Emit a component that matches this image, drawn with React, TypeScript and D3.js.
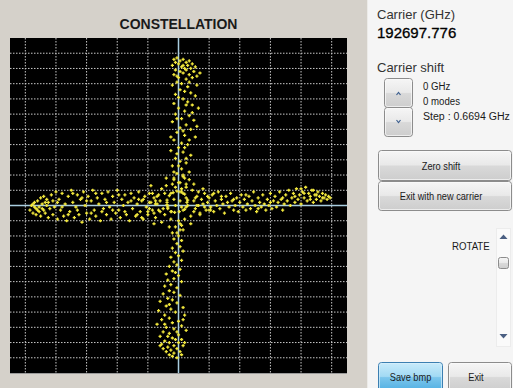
import React from "react";
import * as d3 from "d3";

// Constellation samples in hundredths of full scale: [I, Q]
const leftArm: number[][] = [
  [-97,-3],[-96,0],[-95,-5],[-94,2],[-93,-2],[-93,-6],[-92,3],[-91,-1],[-91,-4],[-90,5],[-90,-7],[-89,1],
  [-88,-3],[-88,6],[-87,-5],[-86,0],[-86,4],[-85,-8],[-85,2],[-84,-2],[-83,7],[-82,-6],[-82,3],[-81,-1],
  [-80,9],[-79,-9],[-78,4],[-77,-3],[-76,8],[-75,-7],[-74,1],[-73,-10],[-72,6],[-71,-4],[-70,10],[-69,2],
  [-68,-8],[-67,-1],[-66,7],[-65,-6],[-64,4],[-63,-11],[-62,9],[-61,0],[-60,-5],[-59,6],[-58,-9],[-57,3],
  [-56,10],[-55,-3],[-54,-7],[-53,5],[-52,1],[-51,-10],[-50,8],[-49,-2],[-48,4],[-47,-6],[-46,9],[-45,-1],
  [-44,-9],[-43,6],[-42,2],[-41,-5],[-40,10],[-39,-3],[-38,-8],[-37,4],[-36,0],[-35,7],[-34,-6],[-33,2],
  [-32,-10],[-31,8],[-30,-2],[-29,5],[-28,-7],[-27,1],[-26,9],[-25,-4],[-24,3],[-23,-9],[-22,6],[-21,-1],
  [-20,-6],[-19,8],[-18,2],[-17,-3],[-16,5],[-15,-8],[-14,1],[-13,7],[-12,-4],
  [-79,2],[-76,-1],[-72,-6],[-69,8],[-66,-3],[-63,5],[-60,3],[-57,-5],[-54,8],[-50,-4],[-47,2],[-43,-3],
  [-39,7],[-35,-4],[-31,3],[-27,-6],[-23,4],[-19,-2],[-15,3],[-94,-1],[-92,-3],[-89,-2],[-87,2],[-95,1],
];

const rightArm: number[][] = [
  [10,3],[11,-2],[12,6],[13,0],[14,-5],[15,4],[16,1],[17,8],[18,-3],[19,2],[20,5],[21,-1],[22,7],[23,-4],
  [24,3],[25,0],[26,9],[27,-2],[28,4],[29,1],[30,-5],[31,6],[32,2],[33,-1],[34,8],[35,3],[36,-3],[37,0],
  [38,5],[39,-4],[40,2],[41,7],[42,-1],[43,4],[44,-3],[45,1],[46,6],[47,-2],[48,3],[49,9],[50,0],[51,-4],
  [52,5],[53,2],[54,-1],[55,7],[56,1],[57,-3],[58,4],[59,0],[60,8],[61,-2],[62,3],[63,6],[64,-1],[65,2],
  [66,9],[67,4],[68,-3],[69,1],[70,7],[71,3],[72,10],[73,0],[74,5],[75,8],[76,2],[77,11],[78,4],[79,7],
  [80,1],[81,9],[82,5],[83,12],[84,3],[85,8],[86,6],[87,10],[88,2],[89,7],[90,4],[91,9],[92,6],[93,3],
  [94,8],[95,5],[96,7],[97,4],[98,6],[99,5],
  [20,-3],[28,6],[36,4],[44,7],[52,-2],[60,2],[68,5],[76,6],[82,8],[86,4],[90,7],[94,5],[80,11],[88,10],
];

const topArm: number[][] = [
  [-3,96],[-1,97],[1,95],[3,96],[0,93],[-4,92],[2,91],[5,94],[4,90],[-2,89],[6,92],[1,88],[8,90],[-3,86],
  [3,87],[7,86],[0,84],[10,88],[5,83],[-1,81],[9,84],[2,80],[12,85],[-4,79],[6,78],[4,75],
  [1,76],[8,74],[-2,73],[11,72],[3,70],[6,68],[-3,67],[9,66],[0,64],[13,64],[4,62],[-2,60],[7,59],[2,57],
  [10,56],[-4,55],[5,53],[1,51],[8,50],[-1,48],[4,46],[11,45],[-3,43],[2,41],[6,40],[0,38],[-5,36],[3,35],
  [8,33],[-2,31],[1,29],[5,28],[-4,26],[2,24],[7,22],[-1,21],[3,19],[-3,17],[1,15],[5,14],[-2,12],[2,11],
  [7,95],[9,93],[-2,94],[3,92],[11,91],[5,89],[14,87],[-1,85],[7,81],[12,79],[0,71],[5,66],[9,61],[-1,57],
  [12,52],[3,49],[-5,45],[7,43],[4,38],[-1,34],[5,31],[0,26],[-3,22],[4,18],
];

const bottomArm: number[][] = [
  [1,-12],[-2,-14],[3,-16],[-1,-18],[0,-20],[-3,-22],[2,-23],[-1,-25],[1,-27],[-4,-28],[3,-30],[-2,-31],
  [0,-33],[-5,-34],[2,-36],[-3,-37],[-1,-39],[-6,-40],[1,-42],[-4,-43],[-8,-45],[0,-46],[-3,-48],[-7,-49],
  [2,-50],[-5,-52],[-9,-53],[-1,-54],[-6,-56],[-3,-57],[-10,-58],[1,-59],[-7,-61],[-4,-62],[-12,-63],
  [-1,-64],[-8,-66],[3,-67],[-5,-68],[-13,-69],[-2,-70],[-9,-72],[4,-72],[-6,-74],[-11,-75],[0,-76],
  [-4,-77],[-14,-78],[2,-79],[-8,-80],[-3,-81],[5,-82],[-10,-83],[-6,-84],[0,-85],[-12,-86],
  [-4,-87],[2,-88],[-9,-89],[-6,-90],[0,-90],[-11,-91],[-3,-92],[3,-92],[-7,-93],[-1,-94],[-10,-94],
  [-5,-95],[1,-96],[-8,-96],[-3,-97],[2,-98],[-6,-98],[-1,-100],[-4,-99],
  [-2,-44],[-6,-65],[3,-75],[-9,-78],[-1,-83],[4,-90],[-12,-92],[-2,-88],[-7,-86],
];

const centerCluster: number[][] = [
  [5.5,2],[5,5],[4,7.5],[2,9],[-1,9.5],[-3.5,8.5],[-6,6.5],[-7.5,3.5],[-7.5,0.5],[-7,-2],[-5,-4],
  [-2.5,-4.5],[0.5,-4],[3,-3],[5,-1],[6,3.5],[1,9],[-5,8],[-7,-1],[4,-2.5],[-4.5,-4],[3,8],[-7.5,2],[6,0],
  [-12,3],[-10,-2],[-14,6],[-9,8],[-11,11],[-8,13],[-4,14],[0,15],[5,12],[9,10],[11,5],[12,0],[10,-4],
  [8,-7],[4,-9],[0,-10],[-5,-9],[-9,-6],[-13,-3],[-15,1],[-16,-5],[-17,8],[-19,2],[-20,-4],[-22,6],[15,4],
  [17,-1],[19,6],[21,-3],[14,-6],[13,9],[16,11],[-3,18],[3,20],[-6,-14],[2,-13],[-11,-11],[8,-12],[-2,0],
  [1,3],[-3,4],[2,-1],[-24,-8],[23,8],[-26,4],[-8,18],[7,17],[-18,13],[-16,-12],[10,14],[1,-16],[-4,-18],
];

const xGridValues = [-1.0, -0.8, -0.6, -0.4, -0.2, 0.2, 0.4, 0.6, 0.8, 1.0];
const yGridValues = [-1.0, -0.9, -0.8, -0.7, -0.6, -0.5, -0.4, -0.3, -0.2, -0.1, 0.1, 0.2, 0.3, 0.4, 0.5, 0.6, 0.7, 0.8, 0.9, 1.0];

const W = 513;
const H = 388;
const plot = { left: 10, right: 347, top: 38, bottom: 373 };

const FONT = "'Liberation Sans', Arial, sans-serif";

function Narrow({ x, y, size, children, anchor = "start", fill = "#1a1a1a", sx = 0.84 }: any) {
  return (
    <g transform={`translate(${x},${y}) scale(${sx},1)`}>
      <text x={0} y={0} fontSize={size} fontFamily={FONT} textAnchor={anchor} fill={fill}>
        {children}
      </text>
    </g>
  );
}

function Button({ x, y, w, h, label, blue = false, dx = 0 }: any) {
  return (
    <g>
      <rect x={x + 0.5} y={y + 0.5} width={w - 1} height={h - 1} rx={3}
        fill={blue ? "url(#btnBlue)" : "url(#btnGray)"} stroke={blue ? "#3c7fb1" : "#8c8c8c"} />
      <rect x={x + 1.5} y={y + 1.5} width={w - 3} height={h - 3} rx={2}
        fill="none" stroke={blue ? "#d8f0fb" : "#fbfbfb"} strokeOpacity={0.7} />
      {label && <Narrow x={x + w / 2 + dx} y={y + h / 2 + 4} size={11} anchor="middle">{label}</Narrow>}
    </g>
  );
}

export default function App() {
  const x = d3.scaleLinear().domain([-1.1, 1.1]).range([plot.left, plot.right]);
  const y = d3.scaleLinear().domain([-1.1, 1.1]).range([plot.bottom, plot.top]);

  const allPoints = [...leftArm, ...rightArm, ...topArm, ...bottomArm, ...centerCluster];
  const cross = (px: number, py: number) =>
    `M${px - 1.6},${py}H${px + 1.6}M${px},${py - 1.6}V${py + 1.6}`;
  const pointsPath = allPoints.map(([i, q]) => cross(x(i / 100), y(q / 100))).join("");

  return (
    <div style={{ position: "absolute", left: 0, top: 0 }}>
      <svg width={W} height={H} style={{ display: "block" }}>
        <defs>
          <linearGradient id="btnGray" x1="0" y1="0" x2="0" y2="1">
            <stop offset="0" stopColor="#f6f6f6" />
            <stop offset="0.48" stopColor="#e9e9e9" />
            <stop offset="0.52" stopColor="#d9d9d9" />
            <stop offset="1" stopColor="#cdcdcd" />
          </linearGradient>
          <linearGradient id="btnBlue" x1="0" y1="0" x2="0" y2="1">
            <stop offset="0" stopColor="#c9ebfa" />
            <stop offset="0.48" stopColor="#a2daf4" />
            <stop offset="0.52" stopColor="#7cc6ec" />
            <stop offset="1" stopColor="#4eaee2" />
          </linearGradient>
          <clipPath id="plotClip">
            <rect x={plot.left} y={plot.top} width={plot.right - plot.left} height={plot.bottom - plot.top} />
          </clipPath>
        </defs>

        {/* panels */}
        <rect x={0} y={0} width={W} height={H} fill="#f5f5f5" />
        <rect x={0} y={0} width={367} height={H} fill="#d5d1ca" />
        <line x1={367.5} y1={0} x2={367.5} y2={H} stroke="#ecebe8" />

        {/* constellation plot */}
        <text x={178.5} y={29} fontSize={14} fontWeight="bold" fontFamily={FONT} textAnchor="middle" fill="#1a1a1a">
          CONSTELLATION
        </text>
        <rect x={plot.left} y={plot.top} width={plot.right - plot.left} height={plot.bottom - plot.top} fill="#000" />
        <g clipPath="url(#plotClip)">
          {xGridValues.map((v) => (
            <line key={`gx${v}`} x1={x(v)} x2={x(v)} y1={plot.top} y2={plot.bottom}
              stroke="#c8c8c8" strokeWidth={1} strokeDasharray="1.5,1.5" />
          ))}
          {yGridValues.map((v) => (
            <line key={`gy${v}`} y1={y(v)} y2={y(v)} x1={plot.left} x2={plot.right}
              stroke="#c8c8c8" strokeWidth={1} strokeDasharray="1.5,1.5" />
          ))}
          <line x1={x(0)} x2={x(0)} y1={plot.top} y2={plot.bottom} stroke="#a9cde0" strokeWidth={1.5} />
          <line y1={y(0)} y2={y(0)} x1={plot.left} x2={plot.right} stroke="#a9cde0" strokeWidth={1.5} />
          <path d={pointsPath} stroke="#f0e63c" strokeWidth={1.3} fill="none" />
        </g>
        <line x1={plot.left} x2={plot.right} y1={plot.bottom + 0.5} y2={plot.bottom + 0.5} stroke="#9a9a9a" />

        {/* right control panel */}
        <text x={377} y={19} fontSize={13} fontFamily={FONT} fill="#333">Carrier (GHz)</text>
        <text x={377} y={38} fontSize={15} fontFamily={FONT} fill="#000" stroke="#000" strokeWidth={0.3}>192697.776</text>
        <text x={377} y={72} fontSize={13} fontFamily={FONT} fill="#333">Carrier shift</text>

        <Button x={384} y={78} w={29} h={30} />
        <Button x={384} y={107} w={29} h={30} />
        <path d="M396.5,95 L398.5,92.5 L400.5,95" fill="none" stroke="#3d5f8f" strokeWidth={1.2} />
        <path d="M396.5,120 L398.5,122.5 L400.5,120" fill="none" stroke="#3d5f8f" strokeWidth={1.2} />

        <Narrow x={423} y={90} size={11.5}>0 GHz</Narrow>
        <Narrow x={423} y={105} size={11.5}>0 modes</Narrow>
        <Narrow x={423} y={120} size={11.5} sx={0.92}>Step : 0.6694 GHz</Narrow>

        <Button x={378} y={150} w={134} h={31} label="Zero shift" dx={-4} />
        <Button x={378} y={181} w={134} h={30} label="Exit with new carrier" dx={-4} />

        <Narrow x={452} y={250} size={11.5}>ROTATE</Narrow>
        <rect x={496.5} y={228.5} width={14} height={118} fill="#fafafa" stroke="#ececec" />
        <path d="M499.5,239 L503.5,234.5 L507.5,239 Z" fill="#4a5f82" />
        <path d="M499.5,334 L503.5,338.5 L507.5,334 Z" fill="#4a5f82" />
        <rect x={498.5} y={257.5} width={10} height={11} rx={2} fill="url(#btnGray)" stroke="#8c8c8c" />

        <Button x={378} y={362} w={65} h={30} label="Save bmp" blue />
        <Button x={448} y={362} w={64} h={30} label="Exit" dx={-4} />
      </svg>
    </div>
  );
}
